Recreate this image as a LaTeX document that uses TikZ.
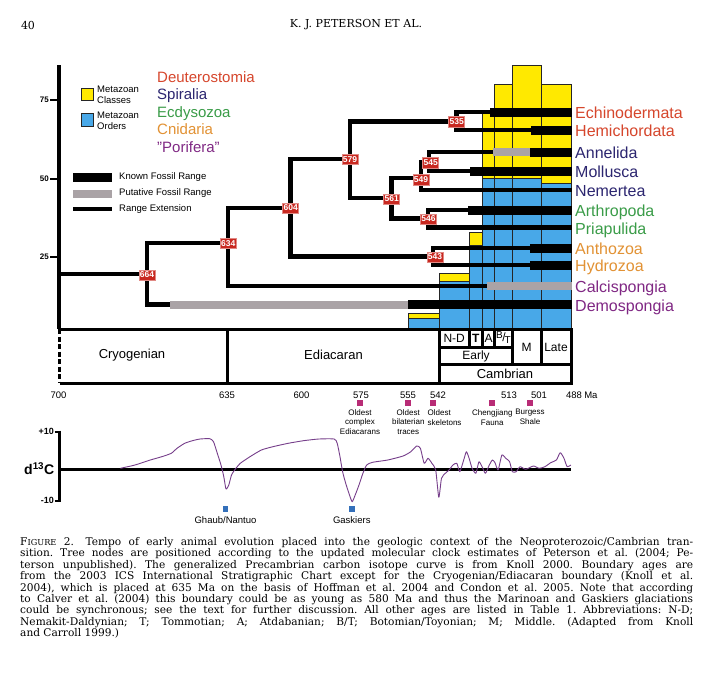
\documentclass[tikz,border=0pt]{standalone}
\usepackage{fontspec}
\setmainfont{Liberation Sans}
\setsansfont{Liberation Sans}
\newfontfamily\capfont{DejaVu Serif}
\usetikzlibrary{calc,positioning}
\definecolor{deutred}{RGB}{214,70,44}
\definecolor{spirblue}{RGB}{44,38,112}
\definecolor{ecdgreen}{RGB}{58,156,72}
\definecolor{cnidorange}{RGB}{226,146,52}
\definecolor{porpurple}{RGB}{128,40,132}
\definecolor{clockred}{RGB}{200,40,32}
\definecolor{putgrey}{RGB}{170,163,166}
\definecolor{classyellow}{RGB}{255,233,0}
\definecolor{orderblue}{RGB}{72,168,232}
\definecolor{isocurve}{RGB}{118,62,138}
\definecolor{fossilmag}{RGB}{184,44,118}
\definecolor{glacblue}{RGB}{52,112,186}
\newcommand{\capline}[1]{\makebox[673pt][s]{#1}}

\begin{document}
\begin{tikzpicture}[x=1pt,y=-1pt,font=\sffamily]

\tikzset{ext/.style={line width=4.5pt},
known/.style={line width=9pt},
puta/.style={line width=8pt,draw=putgrey},
tbl/.style={line width=3pt},
clock/.style={fill=clockred,draw=clockred!55!white,line width=0.5pt,text=white,font=\sffamily\bfseries\fontsize{8.5}{8.5}\selectfont,inner sep=0pt,minimum width=16pt,minimum height=10.5pt},
taxon/.style={anchor=base west,inner sep=0pt,font=\sffamily\fontsize{16}{16}\selectfont},
clade/.style={anchor=base west,inner sep=0pt,font=\sffamily\fontsize{15}{15}\selectfont},
smalltext/.style={inner sep=0pt,font=\sffamily\fontsize{9.5}{11}\selectfont},
tinytext/.style={inner sep=0pt,align=center,font=\sffamily\fontsize{8}{10}\selectfont},
celltext/.style={inner sep=0pt,font=\sffamily\fontsize{13}{13}\selectfont},
stagetext/.style={inner sep=0pt,font=\sffamily\fontsize{12}{12}\selectfont},
yellowbar/.style={fill=classyellow,draw=black!85,line width=1pt},
bluebar/.style={fill=orderblue,draw=black!85,line width=1pt},
fossilmark/.style={fill=fossilmag,inner sep=0pt,minimum size=6pt},
glacmark/.style={fill=glacblue,inner sep=0pt,minimum size=5.5pt}}

\useasboundingbox[fill=white] (0,0) rectangle (713,680);

% Running head
\node[font=\capfont\fontsize{11}{11}\selectfont] (pageno) at (28,25) {40};
\node[font=\capfont\fontsize{11}{11}\selectfont] (runhead) at (356,25) {K. J. PETERSON ET AL.};

% Diversity bars (classes / orders)
\foreach \xa/\xb/\ya/\yb in {408/439.5/313/318, 439.5/469/273/281, 469/482.5/232/245, 482.5/494.5/110/178, 494.5/512.5/84/178, 512.5/541/65/178, 541/571/84/183}{
  \filldraw[yellowbar] (\xa,\ya) rectangle (\xb,\yb);
  \filldraw[bluebar] (\xa,\yb) rectangle (\xb,329);
}

% Axis
\draw[line width=3.5pt] (59,65) -- (59,329);
\foreach \yy/\lab in {100/75, 179/50, 257/25}{
  \draw[line width=2pt] (50,\yy) -- (59,\yy);
  \node[anchor=east,inner sep=0pt,font=\sffamily\bfseries\fontsize{8}{8}\selectfont] (tick\lab) at (49,\yy) {\lab};
}

% Branch points
\coordinate (root) at (59,274);
\coordinate (n664) at (147,274);
\coordinate (n634) at (228,243);
\coordinate (n604) at (290.5,208);
\coordinate (n579) at (350,159);
\coordinate (n535) at (456.5,121.5);
\coordinate (n561) at (391.5,198);
\coordinate (n549) at (421,178);
\coordinate (n545) at (429,162);
\coordinate (n546) at (428,218.5);
\coordinate (n543) at (433,256.5);

% Tips and taxon names
\foreach \nm/\yy/\txt/\col in {Ech/112/Echinodermata/deutred, Hem/130/Hemichordata/deutred, Ann/152/Annelida/spirblue, Mol/171/Mollusca/spirblue, Nem/190/Nemertea/spirblue, Art/210/Arthropoda/ecdgreen, Pri/227.5/Priapulida/ecdgreen, Ant/248/Anthozoa/cnidorange, Hyd/265/Hydrozoa/cnidorange, Cal/286/Calcispongia/porpurple, Dem/304.5/Demospongia/porpurple}{
  \coordinate (t\nm) at (572,\yy);
  \node[taxon,text=\col] (l\nm) at (575,\yy+6.5) {\txt};
}

% Range starts
\coordinate (kEch) at (490,112);
\coordinate (kHem) at (531,130);
\coordinate (pAnn) at (493,152);
\coordinate (kAnn) at (530,152);
\coordinate (kMol) at (470,171);
\coordinate (kArt) at (468,210);
\coordinate (kAnt) at (530,248);
\coordinate (kHyd) at (530,265);
\coordinate (pCal) at (487,286);
\coordinate (dDem) at (170,304.5);
\coordinate (kDem) at (408,304.5);

% Tree
\draw[ext] (root) -- (n664);
\draw[ext] (n634) -| (n664) |- (dDem);
\draw[ext] (n604) -| (n634) |- (pCal);
\draw[ext] (n579) -| (n604) |- (n543);
\draw[ext] (n535) -| (n579) |- (n561);
\draw[ext] (tEch) -| (n535) |- (tHem);
\draw[ext] (n549) -| (n561) |- (n546);
\draw[ext] (n545) -| (n549) |- (tNem);
\draw[ext] (tAnn) -| (n545) |- (tMol);
\draw[ext] (tArt) -| (n546) |- (tPri);
\draw[ext] (tAnt) -| (n543) |- (tHyd);

% Fossil ranges
\draw[puta] (dDem) -- (kDem);
\draw[known] (kDem) -- (tDem);
\draw[puta] (pCal) -- (tCal);
\draw[known] (kEch) -- (tEch);
\draw[known] (kHem) -- (tHem);
\draw[puta] (pAnn) -- (kAnn);
\draw[known] (kAnn) -- (tAnn);
\draw[known] (kMol) -- (tMol);
\draw[known] (kArt) -- (tArt);
\draw[known] (kAnt) -- (tAnt);
\draw[known] (kHyd) -- (tHyd);

% Molecular clock estimates
\node[clock] (c664) at (147,275) {664};
\node[clock] (c634) at (228.3,243.3) {634};
\node[clock] (c604) at (290.7,208) {604};
\node[clock] (c579) at (350,159.3) {579};
\node[clock] (c535) at (456.7,121.7) {535};
\node[clock] (c561) at (391.7,199) {561};
\node[clock] (c549) at (421,179.5) {549};
\node[clock] (c545) at (430.7,162.7) {545};
\node[clock] (c546) at (428.5,219) {546};
\node[clock] (c543) at (435,257) {543};

% Legend
\filldraw[yellowbar] (81,88.3) rectangle (93.3,100);
\filldraw[bluebar] (81,113.5) rectangle (93.3,126.5);
\node[smalltext,anchor=west,align=left] (legclass) at (97,94.5) {Metazoan\\Classes};
\node[smalltext,anchor=west,align=left] (legorder) at (97,120.5) {Metazoan\\Orders};
\node[clade,text=deutred] (cDeut) at (157,82.4) {Deuterostomia};
\node[clade,text=spirblue] (cSpir) at (157,99.9) {Spiralia};
\node[clade,text=ecdgreen] (cEcdy) at (157,117.4) {Ecdysozoa};
\node[clade,text=cnidorange] (cCnid) at (157,134.9) {Cnidaria};
\node[clade,text=porpurple] (cPori) at (157,152.4) {"Porifera"};
\draw[known] (73,177.5) -- (112,177.5);
\draw[puta] (73,193.5) -- (112,193.5);
\draw[ext] (73,209) -- (112,209);
\node[smalltext,anchor=west] (legknown) at (119,177.5) {Known Fossil Range};
\node[smalltext,anchor=west] (legputa) at (119,193.5) {Putative Fossil Range};
\node[smalltext,anchor=west] (legext) at (119,209) {Range Extension};

% Time scale
\draw[tbl] (59.6,329) -- (571,329) -- (571,383) -- (59.6,383);
\draw[tbl,dash pattern=on 5pt off 2.5pt] (59.6,329) -- (59.6,383);
\draw[tbl] (227.7,329) -- (227.7,383);
\draw[tbl] (439.5,329) -- (439.5,383);
\draw[tbl] (439.5,364.5) -- (571,364.5);
\draw[tbl] (439.5,347) -- (512.5,347);
\foreach \xx in {469,482.5,494.5} \draw[tbl] (\xx,329) -- (\xx,347);
\foreach \xx in {512.5,541} \draw[tbl] (\xx,329) -- (\xx,364.5);
\node[celltext] (cryo) at (132,355) {Cryogenian};
\node[celltext] (edia) at (333.5,355) {Ediacaran};
\node[celltext] (camb) at (505,374) {Cambrian};
\node[stagetext] (early) at (476,356) {Early};
\node[stagetext] (stND) at (454.2,338) {N-D};
\node[stagetext] (stT) at (475.8,338) {\bfseries T};
\node[stagetext] (stA) at (488.5,338) {A};
\node[stagetext] (stBT) at (503.5,338) {\raisebox{2.5pt}{\fontsize{10}{10}\selectfont B}\kern-0.5pt/\kern-1pt\raisebox{-2.5pt}{\fontsize{10}{10}\selectfont T}};
\node[stagetext] (stM) at (526.7,347) {M};
\node[stagetext] (stLate) at (556,347) {Late};
\foreach \xx/\lab in {58.5/700, 227/635, 301.5/600, 361/575, 408/555, 438/542, 509/513, 539/501, 574/488}
  \node[smalltext,anchor=base] (age\lab) at (\xx,398) {\lab};
\node[smalltext,anchor=base west] (maunit) at ($(age488.base east)+(2,0)$) {Ma};

% Fossil events
\node[fossilmark] (fEdi) at (360,403.3) {};
\node[fossilmark] (fBil) at (408.3,403.3) {};
\node[fossilmark] (fSke) at (432.7,403.3) {};
\node[fossilmark] (fChe) at (492.3,403.3) {};
\node[fossilmark] (fBur) at (530,403.3) {};
\node[tinytext,below=2.5pt of fEdi] (tEdi) {Oldest\\complex\\Ediacarans};
\node[tinytext,below=2.5pt of fBil] (tBil) {Oldest\\bilaterian\\traces};
\node[tinytext,align=left,anchor=north west] (tSke) at (427.5,409) {Oldest\\skeletons};
\node[tinytext,below=2.5pt of fChe] (tChe) {Chengjiang\\Fauna};
\node[tinytext,below=2.5pt of fBur] (tBur) {Burgess\\Shale};

% Carbon isotope curve
\draw[line width=3pt] (59.5,430.5) -- (59.5,502);
\draw[line width=2.5pt] (59.5,469.3) -- (571,469.3);
\draw[line width=2pt] (54.5,431.7) -- (59.5,431.7);
\draw[line width=2pt] (54.5,500.5) -- (59.5,500.5);
\node[anchor=east,inner sep=0pt,font=\sffamily\bfseries\fontsize{9}{9}\selectfont] (plus10) at (54,431.7) {+10};
\node[anchor=east,inner sep=0pt,font=\sffamily\bfseries\fontsize{9}{9}\selectfont] (minus10) at (54,500.5) {-10};
\node[anchor=east,inner sep=0pt,font=\sffamily\bfseries\fontsize{14}{14}\selectfont] (dlabel) at (54.5,469) {d\textsuperscript{13}C};
\draw[isocurve,line width=0.9pt,line join=round] plot[smooth,tension=0.35] coordinates {
(120.4,468.3) (135,465) (150.3,460) (161.8,456.7) (171.3,453.3) (177,448.3) (184.7,443.3) (192.4,440.7) (200,439) (209.7,438.7) (213.5,441.7) (217.3,453.3) (221,465) (223.8,476.7) (226,489) (228.8,485) (231.5,475) (234.6,470) (240.3,463.3) (250,456.7) (261.4,450) (272.9,446.7) (288.2,443.3) (303.5,440.7) (318.9,439) (334.2,439) (337.2,443.3) (340,456.7) (342.6,471.7) (345.7,483.3) (349.5,495) (352.2,501.7) (355.2,495) (359,485) (362.9,473.3) (366.7,465) (372.5,462.3) (387.8,460) (403.1,456) (410.8,451.7) (416.6,446) (420.4,448.3) (424.2,463.3) (428,458.3) (431.9,463.3) (435.7,470) (438.8,497.3) (441.5,478.3) (445.3,473.3) (449.1,470) (452.9,465) (456.8,463.3) (459.8,471.7) (463.7,460) (466.4,451.7) (469.1,458.3) (472.1,468.3) (475.9,473.3) (479,461.7) (482.8,468.3) (485.5,473.3) (489.3,465) (492.4,460) (495,462.7) (498.1,470) (501.9,455) (505.8,458.3) (509.6,461.7) (512.3,471.7) (516.2,471.7) (520,466.7) (525.7,469.3) (533.4,466) (539.2,468.3) (544.9,466.7) (550.7,462.7) (556.4,460) (560.2,452.7) (564,458.3) (567.1,466.7) (570.9,465)};

% Glaciations
\node[glacmark] (gGhaub) at (225.5,509) {};
\node[glacmark] (gGask) at (351.8,509) {};
\node[smalltext,below=4pt of gGhaub] (tGhaub) {Ghaub/Nantuo};
\node[smalltext,below=4pt of gGask] (tGask) {Gaskiers};

% Caption
\node[anchor=north west,inner sep=0pt,align=left,font=\capfont\fontsize{10.6}{11.45}\selectfont\frenchspacing] (caption) at (20,537) {\capline{F{\fontsize{8.2}{8}\selectfont IGURE} 2.\hspace{1.1em}Tempo of early animal evolution placed into the geologic context of the Neoproterozoic/Cambrian tran-}\\
\capline{sition. Tree nodes are positioned according to the updated molecular clock estimates of Peterson et al. (2004; Pe-}\\
\capline{terson unpublished). The generalized Precambrian carbon isotope curve is from Knoll 2000. Boundary ages are}\\
\capline{from the 2003 ICS International Stratigraphic Chart except for the Cryogenian/Ediacaran boundary (Knoll et al.}\\
\capline{2004), which is placed at 635 Ma on the basis of Hoffman et al. 2004 and Condon et al. 2005. Note that according}\\
\capline{to Calver et al. (2004) this boundary could be as young as 580 Ma and thus the Marinoan and Gaskiers glaciations}\\
\capline{could be synchronous; see the text for further discussion. All other ages are listed in Table 1. Abbreviations: N-D;}\\
\capline{Nemakit-Daldynian; T; Tommotian; A; Atdabanian; B/T; Botomian/Toyonian; M; Middle. (Adapted from Knoll}\\
and Carroll 1999.)};

\end{tikzpicture}
\end{document}
